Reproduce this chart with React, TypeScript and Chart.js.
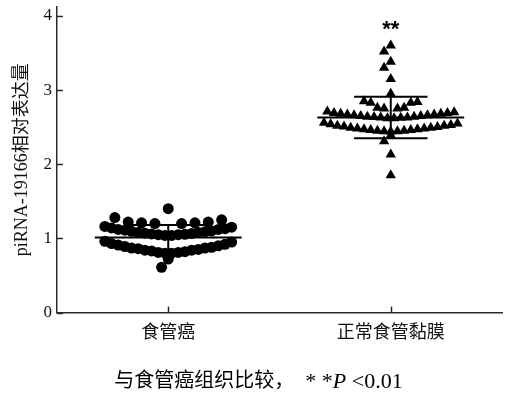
import { useEffect, useRef } from 'react';
import { Chart, registerables } from 'chart.js';

Chart.register(...registerables);

// ---------- data ----------
const categories = ['食管癌', '正常食管黏膜'];
const groupCenters = [1, 3];
const yTicks = [0, 1, 2, 3, 4];
const yTitle = 'piRNA-19166相对表达量';
const sigMarks = ['', '**'];
const captionParts = [
  { text: '与食管癌组织比较，', italic: false, latin: false },
  { text: '  * *', italic: false, latin: true },
  { text: 'P', italic: true, latin: true },
  { text: ' <0.01', italic: false, latin: true },
];

const cancerValues = [
  1.40,
  1.20, 1.20, 1.21, 1.21, 1.22, 1.22, 1.25, 1.28,
  1.04, 1.04, 1.05, 1.05, 1.055, 1.06, 1.065, 1.07, 1.08, 1.08,
  1.09, 1.095, 1.10, 1.11, 1.12, 1.12, 1.13, 1.14, 1.15, 1.16,
  0.80, 0.80, 0.81, 0.81, 0.82, 0.83, 0.84, 0.84, 0.85, 0.86,
  0.87, 0.87, 0.88, 0.89, 0.90, 0.91, 0.92, 0.93, 0.95, 0.96,
  0.72, 0.61,
];

const normalValues = [
  3.60, 3.52, 3.38, 3.30, 3.15, 2.95,
  2.83, 2.83, 2.84, 2.85,
  2.75, 2.75, 2.76, 2.76,
  2.62, 2.62, 2.625, 2.63, 2.63, 2.635, 2.64, 2.64, 2.65, 2.65,
  2.66, 2.66, 2.67, 2.67, 2.68, 2.68, 2.69, 2.69, 2.70, 2.71,
  2.44, 2.445, 2.445, 2.45, 2.45, 2.46, 2.46, 2.47, 2.47, 2.48, 2.48,
  2.49, 2.49, 2.50, 2.51, 2.52, 2.52, 2.53, 2.54, 2.55, 2.56,
  2.39, 2.31, 2.13, 1.85,
];

const groupMeans = [1.01, 2.63];
const groupSDs = [0.17, 0.28];

// ---------- layout / style constants ----------
const COL = 0.06; // horizontal column step (x data units)
const ROW_GAP = 0.035;
const SINGLE_GAP = 0.13;
const MEAN_HALF = 0.66;
const CAP_HALF = 0.33;
const AXIS_COLOR = '#2a2a2a';
const TICK_LEN = 6;
const FONT_FAMILY = "'Liberation Serif', 'Noto Sans CJK SC', serif";

function swarm(values: number[], center: number) {
  const sorted = [...values].sort((a, b) => a - b);
  const rows: number[][] = [];
  for (const v of sorted) {
    const last = rows[rows.length - 1];
    if (last && v - last[last.length - 1] <= ROW_GAP) last.push(v);
    else rows.push([v]);
  }
  const pts: { x: number; y: number }[] = [];
  const placed: { c: number; v: number }[] = [];
  const conflicts = (c: number, v: number) =>
    placed.some((p) => p.c === c && Math.abs(p.v - v) < SINGLE_GAP);
  const singles: number[] = [];
  for (const row of rows) {
    if (row.length === 1) {
      singles.push(row[0]);
      continue;
    }
    const n = row.length;
    const dense = n >= 10;
    const step = dense ? 1 : n <= 4 ? 1 : 2;
    const makeSlots = (o: number) => {
      const slots: number[] = [];
      if (n % 2 === 1) slots.push(0);
      for (let k = 1; slots.length < n; k++) {
        const off = dense ? (n % 2 === 1 ? k : k - 0.5) : o + step * k;
        slots.push(off, -off);
      }
      return slots;
    };
    let slots = makeSlots(0);
    if (!dense) {
      for (let o = 0; o < 10; o++) {
        const s = makeSlots(o);
        if (!s.some((c, i) => conflicts(c, row[i]))) {
          slots = s;
          break;
        }
      }
    }
    row.forEach((v, i) => {
      pts.push({ x: center + slots[i] * COL, y: v });
      if (!dense) placed.push({ c: slots[i], v });
    });
  }
  singles
    .sort((a, b) => b - a)
    .forEach((v) => {
      const cands = [0, -1, 1, -2, 2, -3, 3];
      for (const c of cands) {
        if (!conflicts(c, v)) {
          placed.push({ c, v });
          pts.push({ x: center + c * COL, y: v });
          break;
        }
      }
    });
  return pts;
}

const inwardTicks = {
  id: 'inwardTicks',
  afterDraw(chart: any) {
    const { ctx, chartArea, scales } = chart;
    ctx.save();
    ctx.strokeStyle = AXIS_COLOR;
    ctx.lineWidth = 1.5;
    yTicks.forEach((v) => {
      const y = Math.round(scales.y.getPixelForValue(v)) + 0.5;
      ctx.beginPath();
      ctx.moveTo(chartArea.left, y);
      ctx.lineTo(chartArea.left + TICK_LEN, y);
      ctx.stroke();
    });
    groupCenters.forEach((v) => {
      const x = Math.round(scales.x.getPixelForValue(v)) + 0.5;
      ctx.beginPath();
      ctx.moveTo(x, chartArea.bottom);
      ctx.lineTo(x, chartArea.bottom - TICK_LEN);
      ctx.stroke();
    });
    ctx.restore();
  },
};

const errorBars = {
  id: 'errorBars',
  afterDatasetsDraw(chart: any) {
    const { ctx, scales } = chart;
    const xs = scales.x;
    const ys = scales.y;
    ctx.save();
    ctx.strokeStyle = '#000';
    ctx.lineWidth = 2;
    groupCenters.forEach((c, i) => {
      const m = groupMeans[i];
      const s = groupSDs[i];
      const line = (x1: number, y1: number, x2: number, y2: number) => {
        ctx.beginPath();
        ctx.moveTo(xs.getPixelForValue(x1), ys.getPixelForValue(y1));
        ctx.lineTo(xs.getPixelForValue(x2), ys.getPixelForValue(y2));
        ctx.stroke();
      };
      line(c - MEAN_HALF, m, c + MEAN_HALF, m);
      line(c, m - s, c, m + s);
      line(c - CAP_HALF, m + s, c + CAP_HALF, m + s);
      line(c - CAP_HALF, m - s, c + CAP_HALF, m - s);
    });
    ctx.restore();
  },
};

const annotations = {
  id: 'annotations',
  afterDraw(chart: any) {
    const { ctx, scales, chartArea, width } = chart;
    ctx.save();
    ctx.fillStyle = '#000';
    ctx.font = "bold 22px 'Liberation Sans', sans-serif";
    ctx.textAlign = 'center';
    ctx.textBaseline = 'alphabetic';
    sigMarks.forEach((m, i) => {
      if (!m) return;
      ctx.fillText(m, scales.x.getPixelForValue(groupCenters[i]), chartArea.top + 29);
    });
    const fonts = captionParts.map(
      (p) => (p.italic ? 'italic ' : '') + (p.latin ? '22px ' : '20px ') + FONT_FAMILY
    );
    let total = 0;
    const widths = captionParts.map((p, i) => {
      ctx.font = fonts[i];
      const w = ctx.measureText(p.text).width;
      total += w;
      return w;
    });
    let x = width / 2 + 4 - total / 2;
    ctx.textAlign = 'left';
    ctx.textBaseline = 'middle';
    captionParts.forEach((p, i) => {
      ctx.font = fonts[i];
      ctx.fillText(p.text, x, 382);
      x += widths[i];
    });
    ctx.restore();
  },
};

export default function App() {
  const ref = useRef<HTMLCanvasElement | null>(null);

  useEffect(() => {
    if (!ref.current) return;
    const chart = new Chart(ref.current, {
      type: 'scatter',
      data: {
        datasets: [
          {
            label: categories[0],
            data: swarm(cancerValues, groupCenters[0]),
            pointStyle: 'circle',
            pointRadius: 5.5,
            pointHoverRadius: 5.5,
            backgroundColor: '#000',
            borderColor: '#000',
            borderWidth: 0,
          },
          {
            label: categories[1],
            data: swarm(normalValues, groupCenters[1]),
            pointStyle: 'triangle',
            pointRadius: 6,
            pointHoverRadius: 6,
            backgroundColor: '#000',
            borderColor: '#000',
            borderWidth: 0,
          },
        ],
      },
      options: {
        responsive: false,
        animation: false,
        devicePixelRatio: 1,
        layout: { padding: { top: 7, right: 7, bottom: 0, left: 0 } },
        plugins: {
          legend: { display: false },
          tooltip: { enabled: false },
          title: { display: false },
        },
        scales: {
          x: {
            type: 'linear',
            min: 0,
            max: 4,
            afterBuildTicks: (scale: any) => {
              scale.ticks = groupCenters.map((v) => ({ value: v }));
            },
            afterFit: (scale: any) => {
              scale.height = 81.5;
              scale.paddingLeft = 0;
              scale.paddingRight = 0;
            },
            ticks: {
              autoSkip: false,
              maxRotation: 0,
              padding: 10,
              color: '#111',
              font: { size: 18, family: FONT_FAMILY },
              callback: (v: any) => {
                const i = groupCenters.indexOf(Number(v));
                return i >= 0 ? categories[i] : '';
              },
            },
            grid: { display: false, drawTicks: false },
            border: { display: true, color: AXIS_COLOR, width: 1.5 },
          },
          y: {
            type: 'linear',
            min: 0,
            max: 4.12,
            afterBuildTicks: (scale: any) => {
              scale.ticks = yTicks.map((v) => ({ value: v }));
            },
            afterFit: (scale: any) => {
              scale.width = 57;
              scale.paddingTop = 0;
              scale.paddingBottom = 0;
            },
            ticks: {
              padding: 5,
              color: '#111',
              font: { size: 17, family: FONT_FAMILY },
              callback: (v: any) => String(v),
            },
            grid: { display: false, drawTicks: false },
            border: { display: true, color: AXIS_COLOR, width: 1.5 },
            title: {
              display: true,
              text: yTitle,
              color: '#111',
              font: { size: 18, family: FONT_FAMILY },
              padding: { top: 11, bottom: 0 },
            },
          },
        },
      },
      plugins: [errorBars, inwardTicks, annotations],
    } as any);
    return () => chart.destroy();
  }, []);

  return (
    <div style={{ position: 'fixed', left: 0, top: 0, width: 509, height: 394, background: '#fff' }}>
      <canvas ref={ref} width={509} height={394} />
    </div>
  );
}
